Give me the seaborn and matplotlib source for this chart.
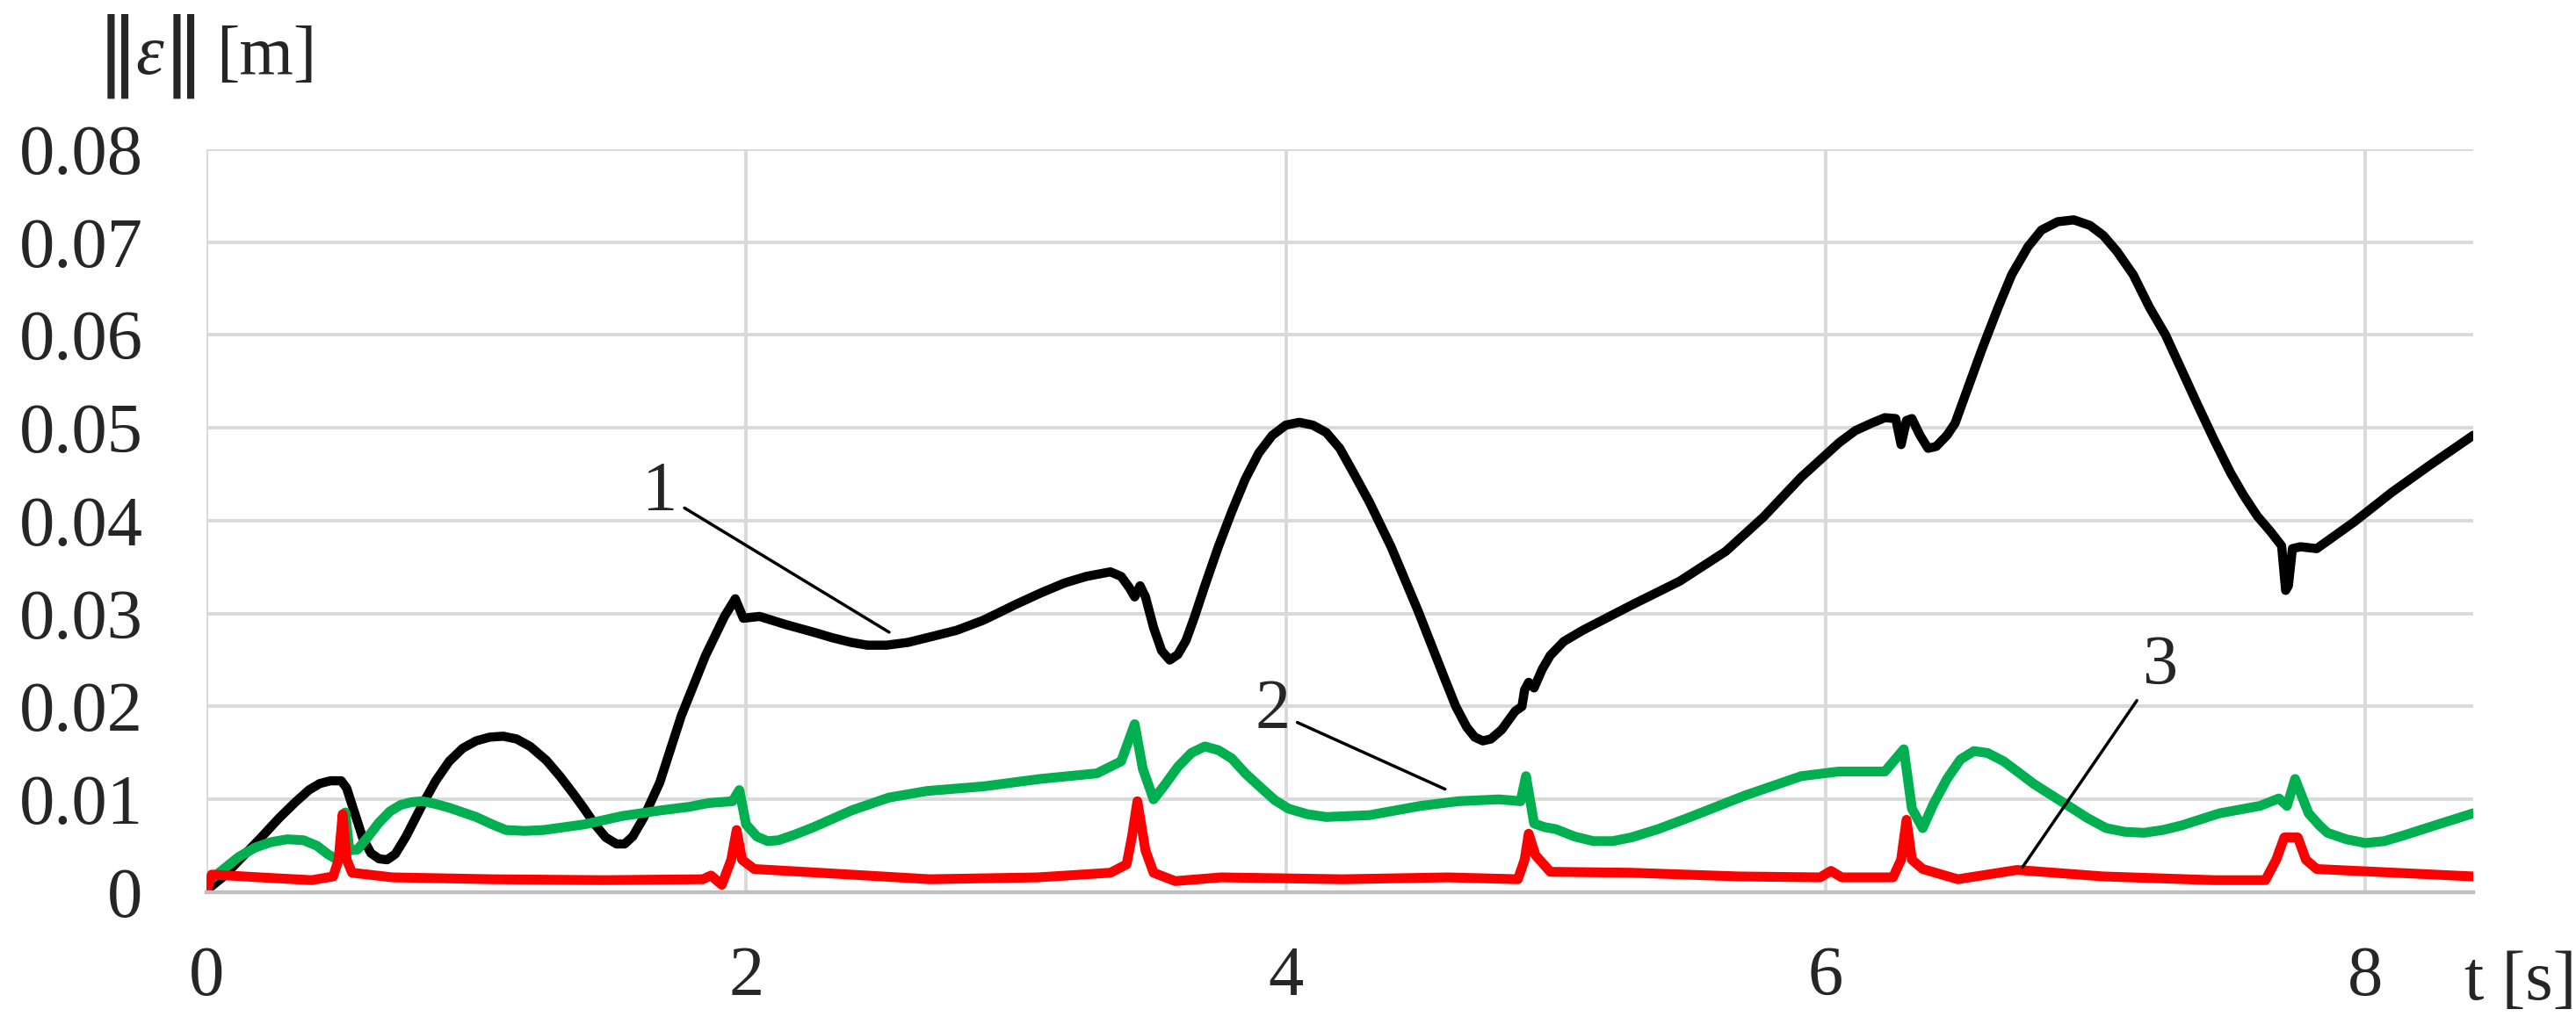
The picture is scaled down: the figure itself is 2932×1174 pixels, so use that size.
import seaborn as sns
import matplotlib.pyplot as plt

# curve 1 (black)
t1 = [0.0, 0.06, 0.12, 0.20, 0.27, 0.33, 0.38, 0.42, 0.46, 0.50, 0.52, 0.55, 0.58, 0.61,
      0.64, 0.67, 0.70, 0.74, 0.80, 0.85, 0.90, 0.95, 1.00, 1.05, 1.10, 1.15, 1.20, 1.26,
      1.31, 1.36, 1.40, 1.44, 1.48, 1.52, 1.55, 1.58, 1.62, 1.68, 1.76, 1.85, 1.92, 1.96,
      1.99, 2.05, 2.15, 2.25, 2.32, 2.39, 2.45, 2.52, 2.60, 2.67, 2.78, 2.88, 3.00, 3.09,
      3.18, 3.26, 3.35, 3.39, 3.42, 3.44, 3.46, 3.48, 3.51, 3.54, 3.57, 3.60, 3.63, 3.66,
      3.70, 3.75, 3.80, 3.85, 3.90, 3.95, 4.00, 4.05, 4.10, 4.15, 4.20, 4.25, 4.31, 4.39,
      4.49, 4.59, 4.63, 4.67, 4.70, 4.73, 4.76, 4.80, 4.85, 4.875, 4.885, 4.90, 4.92, 4.95,
      4.98, 5.03, 5.10, 5.28, 5.46, 5.63, 5.77, 5.91, 6.05, 6.11, 6.17, 6.22, 6.26, 6.28,
      6.30, 6.32, 6.35, 6.38, 6.41, 6.45, 6.48, 6.53, 6.58, 6.64, 6.69, 6.75, 6.80, 6.86,
      6.92, 6.98, 7.03, 7.08, 7.14, 7.20, 7.26, 7.32, 7.38, 7.44, 7.50, 7.55, 7.60, 7.65,
      7.69, 7.705, 7.715, 7.73, 7.76, 7.82, 7.96, 8.10, 8.24, 8.40]
e1 = [0.0002, 0.0016, 0.0034, 0.0058, 0.0080, 0.0097, 0.0110, 0.0117, 0.0120, 0.0120,
      0.0112, 0.0085, 0.0058, 0.0042, 0.0036, 0.0035, 0.0041, 0.0060, 0.0094, 0.0120,
      0.0141, 0.0155, 0.0163, 0.0167, 0.0168, 0.0165, 0.0157, 0.0142, 0.0125, 0.0106,
      0.0090, 0.0073, 0.0059, 0.0052, 0.0052, 0.0060, 0.0080, 0.0118, 0.0190, 0.0255,
      0.0297, 0.0316, 0.0295, 0.0297, 0.0288, 0.0280, 0.0274, 0.0269, 0.0266, 0.0266,
      0.0269, 0.0274, 0.0282, 0.0293, 0.0310, 0.0322, 0.0333, 0.0340, 0.0345, 0.0340,
      0.0328, 0.0318, 0.0330, 0.0318, 0.0285, 0.0260, 0.0250, 0.0256, 0.0271, 0.0295,
      0.0330, 0.0372, 0.0410, 0.0445, 0.0473, 0.0492, 0.0503, 0.0506, 0.0503, 0.0495,
      0.0478, 0.0452, 0.0420, 0.0372, 0.0303, 0.0229, 0.0200, 0.0178, 0.0167, 0.0163,
      0.0165, 0.0175, 0.0195, 0.0200, 0.0218, 0.0226, 0.0220, 0.0240, 0.0255, 0.0270,
      0.0282, 0.0309, 0.0335, 0.0367, 0.0404, 0.0447, 0.0484, 0.0497, 0.0505, 0.0511,
      0.0510, 0.0482, 0.0508, 0.0510, 0.0492, 0.0478, 0.0480, 0.0492, 0.0505, 0.0545,
      0.0585, 0.0630, 0.0665, 0.0695, 0.0713, 0.0722, 0.0724, 0.0718, 0.0707, 0.0690,
      0.0665, 0.0630, 0.0600, 0.0562, 0.0524, 0.0487, 0.0452, 0.0427, 0.0405, 0.0388,
      0.0373, 0.0325, 0.0330, 0.0370, 0.0372, 0.0370, 0.0399, 0.0431, 0.0460, 0.0492]

# curve 2 (green)
t2 = [0.0, 0.06, 0.12, 0.18, 0.24, 0.30, 0.36, 0.41, 0.45, 0.48, 0.50, 0.515, 0.53, 0.56,
      0.60, 0.64, 0.68, 0.72, 0.76, 0.80, 0.85, 0.90, 1.00, 1.06, 1.11, 1.18, 1.25, 1.40,
      1.54, 1.68, 1.79, 1.86, 1.95, 1.975, 2.00, 2.04, 2.08, 2.12, 2.18, 2.25, 2.39, 2.53,
      2.67, 2.88, 3.09, 3.30, 3.39, 3.44, 3.47, 3.51, 3.55, 3.60, 3.65, 3.70, 3.75, 3.80,
      3.85, 3.91, 3.96, 4.01, 4.08, 4.15, 4.31, 4.50, 4.64, 4.79, 4.87, 4.89, 4.92, 4.96,
      5.00, 5.07, 5.14, 5.21, 5.28, 5.38, 5.49, 5.70, 5.91, 6.05, 6.22, 6.29, 6.32, 6.36,
      6.40, 6.45, 6.50, 6.55, 6.60, 6.66, 6.72, 6.77, 6.84, 6.90, 6.97, 7.04, 7.11, 7.18,
      7.25, 7.32, 7.46, 7.61, 7.68, 7.71, 7.74, 7.79, 7.83, 7.86, 7.93, 8.00, 8.07, 8.14,
      8.28, 8.40]
e2 = [0.0010, 0.0024, 0.0038, 0.0048, 0.0054, 0.0057, 0.0056, 0.0050, 0.0041, 0.0036,
      0.0042, 0.0086, 0.0045, 0.0046, 0.0060, 0.0075, 0.0087, 0.0094, 0.0097, 0.0098,
      0.0095, 0.0091, 0.0081, 0.0073, 0.0067, 0.0066, 0.0067, 0.0073, 0.0082, 0.0088,
      0.0092, 0.0096, 0.0098, 0.0110, 0.0073, 0.0060, 0.0055, 0.0056, 0.0062, 0.0070,
      0.0088, 0.0102, 0.0109, 0.0114, 0.0122, 0.0128, 0.0141, 0.0181, 0.0133, 0.0100,
      0.0115, 0.0135, 0.0150, 0.0157, 0.0153, 0.0144, 0.0128, 0.0112, 0.0099, 0.0090,
      0.0084, 0.0081, 0.0083, 0.0093, 0.0098, 0.0100, 0.0098, 0.0125, 0.0074, 0.0070,
      0.0068, 0.0060, 0.0055, 0.0055, 0.0059, 0.0068, 0.0080, 0.0104, 0.0125, 0.0130,
      0.0130, 0.0154, 0.0090, 0.0069, 0.0095, 0.0122, 0.0143, 0.0152, 0.0150, 0.0141,
      0.0128, 0.0117, 0.0104, 0.0093, 0.0080, 0.0069, 0.0065, 0.0064, 0.0067, 0.0072,
      0.0085, 0.0093, 0.0101, 0.0093, 0.0122, 0.0085, 0.0072, 0.0064, 0.0057, 0.0053,
      0.0055, 0.0061, 0.0074, 0.0085]

# curve 3 (red)
t3 = [0.0, 0.02, 0.20, 0.39, 0.47, 0.49, 0.505, 0.52, 0.54, 0.69, 1.06, 1.47, 1.84, 1.87,
      1.91, 1.945, 1.965, 1.985, 2.03, 2.27, 2.68, 3.08, 3.35, 3.41, 3.43, 3.45, 3.48, 3.51,
      3.59, 3.76, 4.21, 4.60, 4.86, 4.885, 4.90, 4.925, 4.98, 5.28, 5.68, 5.98, 6.02, 6.06,
      6.25, 6.28, 6.30, 6.32, 6.36, 6.49, 6.71, 7.03, 7.44, 7.63, 7.67, 7.70, 7.75, 7.78,
      7.82, 8.11, 8.40]
e3 = [0.0000, 0.0019, 0.0016, 0.0013, 0.0017, 0.0035, 0.0084, 0.0035, 0.0021, 0.0016,
      0.0014, 0.0013, 0.0014, 0.0018, 0.0008, 0.0035, 0.0067, 0.0035, 0.0025, 0.0021,
      0.0014, 0.0016, 0.0021, 0.0030, 0.0060, 0.0098, 0.0045, 0.0021, 0.0012, 0.0016,
      0.0014, 0.0016, 0.0014, 0.0035, 0.0063, 0.0040, 0.0022, 0.0021, 0.0017, 0.0016,
      0.0023, 0.0016, 0.0016, 0.0035, 0.0078, 0.0035, 0.0025, 0.0014, 0.0024, 0.0017,
      0.0013, 0.0013, 0.0035, 0.0059, 0.0059, 0.0035, 0.0025, 0.0021, 0.0017]

x_ticks = [0, 2, 4, 6, 8]
y_ticks = [0, 0.01, 0.02, 0.03, 0.04, 0.05, 0.06, 0.07, 0.08]
y_tick_labels = ['0', '0.01', '0.02', '0.03', '0.04', '0.05', '0.06', '0.07', '0.08']

# curve labels: text, text position, end of leader line
labels = ['1', '2', '3']
label_pos = [(1.68, 0.0430), (3.95, 0.0195), (7.24, 0.0243)]
label_tip = [(2.53, 0.0280), (4.59, 0.0111), (6.73, 0.0027)]

sns.set_style('white')
plt.rcParams['font.family'] = ['Liberation Serif', 'DejaVu Serif']

fig = plt.figure(figsize=(29.32, 11.74), dpi=100)
ax = fig.add_axes([0.0801, 0.1346, 0.8800, 0.7206])

sns.lineplot(x=t1, y=e1, color='black', linewidth=7.5, estimator=None, sort=False, ax=ax)
sns.lineplot(x=t2, y=e2, color='#00B050', linewidth=8, estimator=None, sort=False, ax=ax)
sns.lineplot(x=t3, y=e3, color='#FF0000', linewidth=8, estimator=None, sort=False, ax=ax)
for line in ax.get_lines():
    line.set_solid_joinstyle('round')
    line.set_solid_capstyle('round')

ax.set_xlim(0, 8.4)
ax.set_ylim(0, 0.08)
ax.set_xticks(x_ticks)
ax.set_xticklabels([str(v) for v in x_ticks])
ax.set_yticks(y_ticks)
ax.set_yticklabels(y_tick_labels)
ax.tick_params(axis='both', length=0, labelsize=58)
ax.tick_params(axis='y', pad=52)
ax.tick_params(axis='x', pad=44)

ax.grid(True, color='#D9D9D9', linewidth=2.8)
ax.set_axisbelow(True)
for side in ['top', 'right', 'left']:
    ax.spines[side].set_visible(False)
ax.spines['bottom'].set_color('#BFBFBF')
ax.spines['bottom'].set_linewidth(3.2)

for txt, pos, tip in zip(labels, label_pos, label_tip):
    ax.annotate(txt, xy=tip, xytext=pos, fontsize=58, ha='center', va='center',
                arrowprops=dict(arrowstyle='-', color='black', lw=2.5,
                                shrinkA=4, shrinkB=0))

# y axis title: ||eps|| [m], with tall norm bars
fig.text(0.0457, 0.946, '\u2016', fontsize=70, family='DejaVu Sans', ha='center', va='center')
fig.text(0.0580, 0.9284, '\u03b5', fontsize=58, style='italic', ha='center', va='baseline')
fig.text(0.0713, 0.946, '\u2016', fontsize=70, family='DejaVu Sans', ha='center', va='center')
fig.text(0.1033, 0.9284, '[m]', fontsize=57, ha='center', va='baseline')
fig.text(0.9567, 0.047, 't [s]', fontsize=58, ha='left', va='center')

fig.savefig('out.png', dpi=100)
